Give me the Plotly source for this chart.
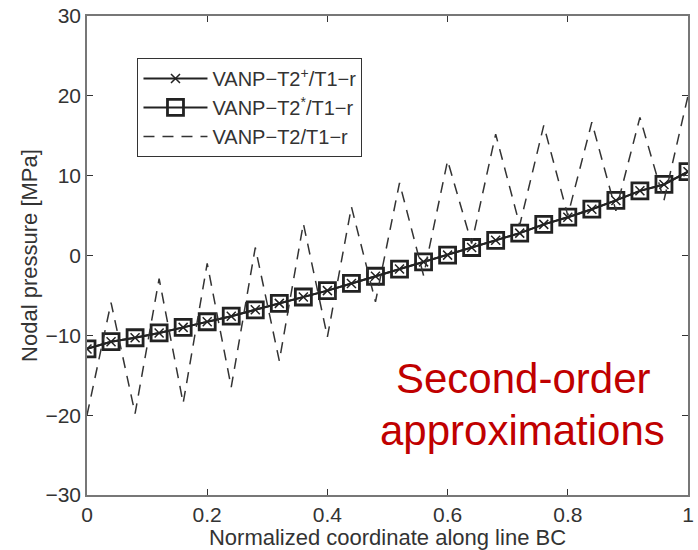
import plotly.graph_objects as go

x_nodes = [0.00, 0.04, 0.08, 0.12, 0.16, 0.20, 0.24, 0.28, 0.32, 0.36, 0.40, 0.44, 0.48,
           0.52, 0.56, 0.60, 0.64, 0.68, 0.72, 0.76, 0.80, 0.84, 0.88, 0.92, 0.96, 1.00]

p_t2plus = [-11.7, -10.8, -10.3, -9.7, -9.0, -8.3, -7.6, -6.8, -6.0, -5.2, -4.4, -3.5, -2.6,
            -1.7, -0.8, 0.05, 1.0, 1.9, 2.8, 3.9, 4.8, 5.8, 6.9, 8.1, 8.9, 10.5]
p_t2star = list(p_t2plus)
p_t2 = [-20.0, -5.9, -19.8, -2.9, -18.5, -1.0, -16.5, 1.0, -13.2, 4.0, -10.2, 6.1, -5.8,
        9.1, -2.5, 11.9, 1.5, 15.2, 3.8, 16.3, 5.0, 16.7, 5.6, 17.3, 6.9, 20.0]

names = ["VANP−T2<sup>+</sup>/T1−r", "VANP−T2<sup>*</sup>/T1−r", "VANP−T2/T1−r"]
x_ticks = [0, 0.2, 0.4, 0.6, 0.8, 1]
x_ticklabels = ["0", "0.2", "0.4", "0.6", "0.8", "1"]
y_ticks = [-30, -20, -10, 0, 10, 20, 30]

FONT = "Liberation Sans, Arial, sans-serif"
ink = "#222222"
txt = "#333333"

fig = go.Figure()
fig.add_trace(go.Scatter(
    x=x_nodes, y=p_t2plus, name=names[0], mode="lines+markers",
    line=dict(color=ink, width=2),
    marker=dict(symbol="x-thin-open", size=9, line=dict(color=ink, width=1.5), color=ink),
))
fig.add_trace(go.Scatter(
    x=x_nodes, y=p_t2star, name=names[1], mode="lines+markers",
    line=dict(color=ink, width=2),
    marker=dict(symbol="square-open", size=16, line=dict(color=ink, width=2.8), color=ink),
))
fig.add_trace(go.Scatter(
    x=x_nodes, y=p_t2, name=names[2], mode="lines",
    line=dict(color="#333333", width=1.5, dash="11px,8px"),
))

fig.add_annotation(x=0.725, y=-15.4, xref="x", yref="y", text="Second-order",
                   showarrow=False, font=dict(family=FONT, size=42, color="#C00000"))
fig.add_annotation(x=0.725, y=-21.9, xref="x", yref="y", text="approximations",
                   showarrow=False, font=dict(family=FONT, size=42, color="#C00000"))

axis_common = dict(
    showline=True, linecolor="#777777", linewidth=1.5, mirror="ticks",
    ticks="inside", ticklen=6, tickcolor="#333333", tickwidth=1,
    showgrid=False, zeroline=False,
    tickfont=dict(family=FONT, size=21, color=txt),
)

fig.update_layout(
    width=698, height=550,
    margin=dict(l=87, r=4, t=15, b=55),
    paper_bgcolor="white", plot_bgcolor="white",
    font=dict(family=FONT, color=txt),
    showlegend=True,
    legend=dict(
        x=0.084, y=0.9125, xanchor="left", yanchor="top",
        bgcolor="white", bordercolor="#333333", borderwidth=1,
        font=dict(family=FONT, size=20, color=txt),
        itemwidth=64, tracegroupgap=0,
    ),
    xaxis=dict(range=[0, 1], tickvals=x_ticks, ticktext=x_ticklabels,
               title=dict(text="Normalized coordinate along line BC",
                          font=dict(family=FONT, size=22, color=txt), standoff=0),
               **axis_common),
    yaxis=dict(range=[-30, 30], tickvals=y_ticks,
               title=dict(text="Nodal pressure [MPa]",
                          font=dict(family=FONT, size=22, color=txt), standoff=2),
               **axis_common),
)

fig.write_html("out.html")
